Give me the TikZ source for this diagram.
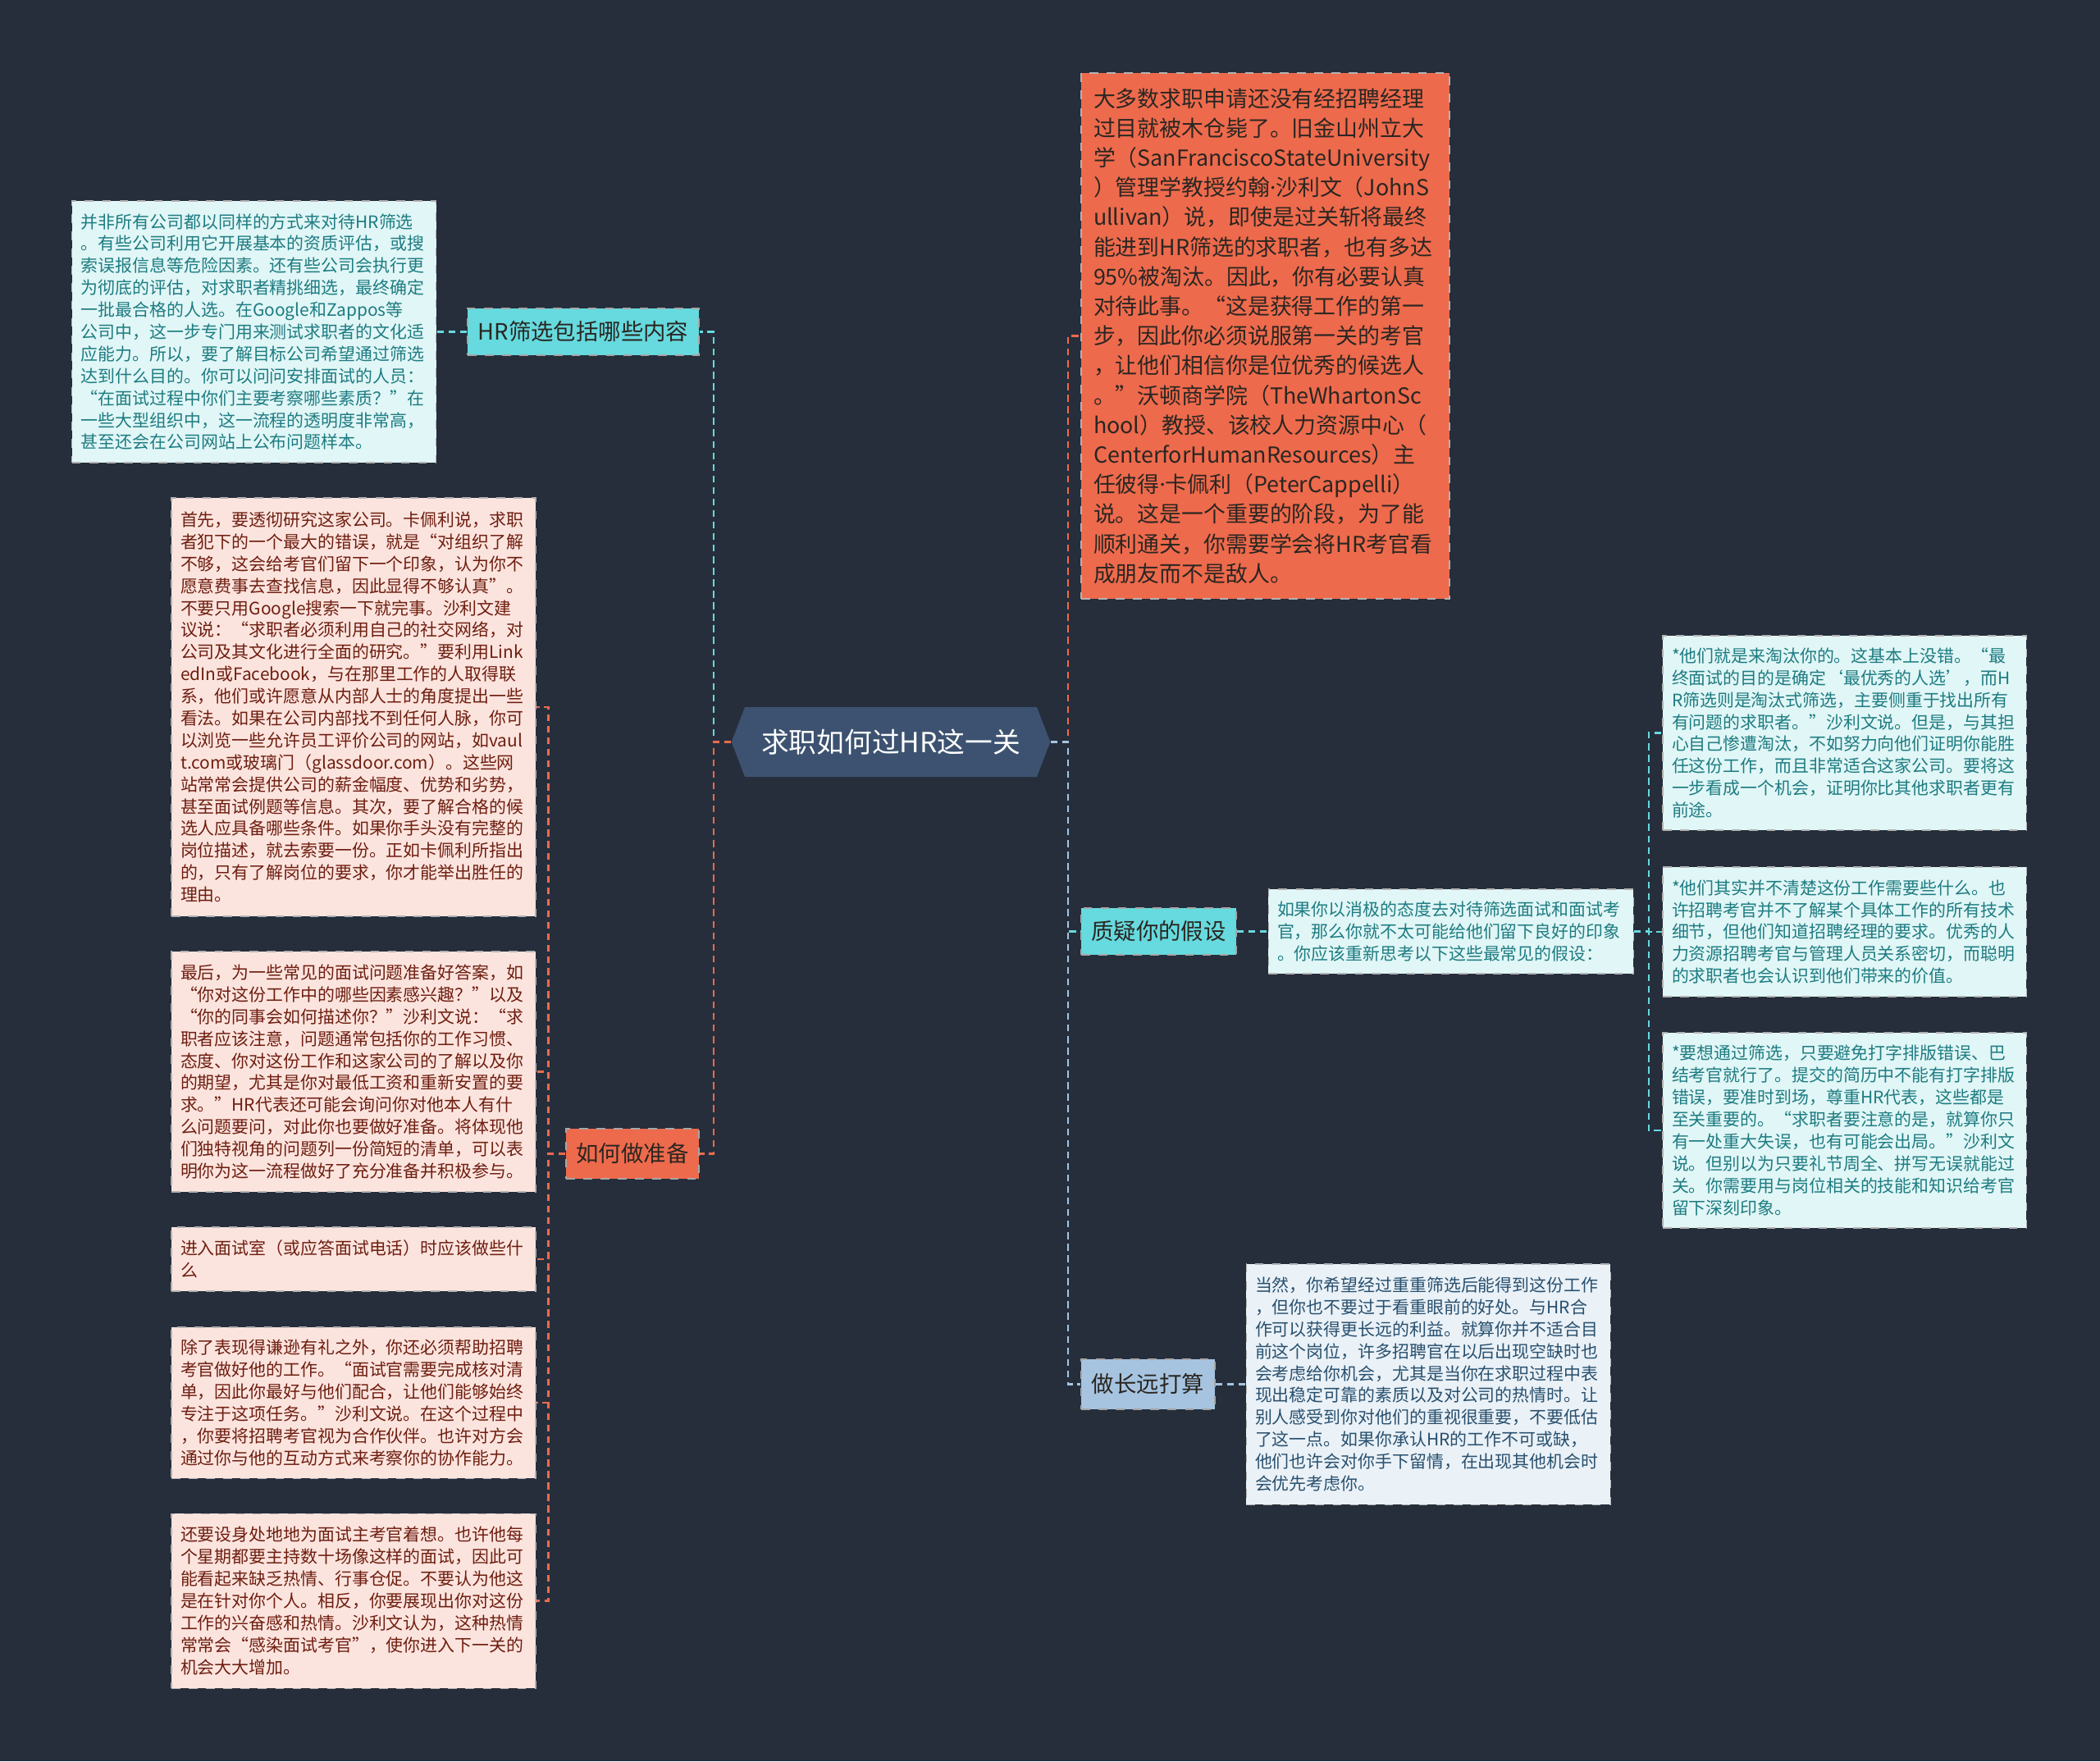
\documentclass[tikz,border=0pt]{standalone}
\usepackage{fontspec}
\setmainfont{Noto Sans CJK SC}
\newfontfamily\narrowdotfont{Noto Sans}
\usepackage{xcolor}
\definecolor{mmbg}{HTML}{262E3C}
\definecolor{mmslate}{HTML}{3C5270}
\definecolor{mmorange}{HTML}{EE6A4C}
\definecolor{mmcyan}{HTML}{66DADE}
\definecolor{mmsteel}{HTML}{A6C4E0}
\definecolor{mmleafcyan}{HTML}{E1F6F6}
\definecolor{mmleafpink}{HTML}{FCE4DE}
\definecolor{mmleafblue}{HTML}{EAF1F7}
\definecolor{mmteal}{HTML}{1D7C82}
\definecolor{mmbrown}{HTML}{6E1E10}
\definecolor{mmnavy}{HTML}{28506E}
\definecolor{mmdark}{HTML}{2A2622}
\usetikzlibrary{shapes.symbols, positioning}
\newcommand{\leaffont}{\fontsize{5.95}{7.65}\selectfont}
\newcommand{\bigleaffont}{\fontsize{7.65}{10.3}\selectfont}
\newcommand{\branchfont}{\fontsize{7.8}{9}\selectfont}
\newcommand{\hubfont}{\fontsize{9.6}{11}\selectfont}
\newcommand{\ndot}{{\narrowdotfont ·}}

\begin{document}
\begin{tikzpicture}[
  hub/.style={signal, signal to=west and east, signal pointer angle=138,
    fill=mmslate, text=white, font=\hubfont,
    minimum width=3.56cm, minimum height=0.85cm, inner xsep=0.2cm},
  branch/.style={rectangle, draw=black!35, dashed, line width=0.3pt,
    text=mmdark, font=\branchfont, minimum height=0.57cm},
  leaf/.style={rectangle, draw=black!30, dashed, line width=0.3pt,
    font=\leaffont, align=left, inner xsep=0.11cm, text width=4.22cm},
  leafcyan/.style={leaf, fill=mmleafcyan, text=mmteal},
  leafpink/.style={leaf, fill=mmleafpink, text=mmbrown},
  leafblue/.style={leaf, fill=mmleafblue, text=mmnavy},
  link/.style={dash pattern=on 2.4pt off 1.6pt, line width=0.6pt}
]
  \fill[mmbg] (0,0) rectangle (25.6,-21.47);

  \node[hub] (hub) at (10.86,-9.045) {求职如何过HR这一关};

  \node[branch, fill=mmcyan, minimum width=2.82cm] (screen) at (7.11,-4.045) {HR筛选包括哪些内容};
  \node[branch, fill=mmorange, minimum width=1.62cm, minimum height=0.61cm] (prep) at (7.71,-14.065) {如何做准备};
  \node[branch, fill=mmcyan, minimum width=1.89cm] (doubt) at (14.125,-11.355) {质疑你的假设};
  \node[branch, fill=mmsteel, minimum width=1.63cm, minimum height=0.61cm] (longrun) at (13.995,-16.875) {做长远打算};

  \node[leaf, fill=mmorange, text=mmdark, font=\bigleaffont, inner xsep=0.15cm,
    text width=4.19cm, minimum height=6.41cm] (intro) at (15.425,-4.095)
    {大多数求职申请还没有经招聘经理\\过目就被木仓毙了。旧金山州立大\\学（SanFranciscoStateUniversity\\）管理学教授约翰\ndot 沙利文（JohnS\\ullivan）说，即使是过关斩将最终\\能进到HR筛选的求职者，也有多达\\95\%被淘汰。因此，你有必要认真\\对待此事。“这是获得工作的第一\\步，因此你必须说服第一关的考官\\，让他们相信你是位优秀的候选人\\。”沃顿商学院（TheWhartonSc\\hool）教授、该校人力资源中心（\\CenterforHumanResources）主\\任彼得\ndot 卡佩利（PeterCappelli）\\说。这是一个重要的阶段，为了能\\顺利通关，你需要学会将HR考官看\\成朋友而不是敌人。};

  \node[leafcyan, minimum height=3.19cm, left=0.37cm of screen] (screennote)
    {并非所有公司都以同样的方式来对待HR筛选\\。有些公司利用它开展基本的资质评估，或搜\\索误报信息等危险因素。还有些公司会执行更\\为彻底的评估，对求职者精挑细选，最终确定\\一批最合格的人选。在Google和Zappos等\\公司中，这一步专门用来测试求职者的文化适\\应能力。所以，要了解目标公司希望通过筛选\\达到什么目的。你可以问问安排面试的人员：\\“在面试过程中你们主要考察哪些素质？”在\\一些大型组织中，这一流程的透明度非常高，\\甚至还会在公司网站上公布问题样本。};

  \node[leafpink, minimum height=5.10cm] (prepa) at (4.31,-8.62)
    {首先，要透彻研究这家公司。卡佩利说，求职\\者犯下的一个最大的错误，就是“对组织了解\\不够，这会给考官们留下一个印象，认为你不\\愿意费事去查找信息，因此显得不够认真”。\\不要只用Google搜索一下就完事。沙利文建\\议说：“求职者必须利用自己的社交网络，对\\公司及其文化进行全面的研究。”要利用Link\\edIn或Facebook，与在那里工作的人取得联\\系，他们或许愿意从内部人士的角度提出一些\\看法。如果在公司内部找不到任何人脉，你可\\以浏览一些允许员工评价公司的网站，如vaul\\t.com或玻璃门（glassdoor.com）。这些网\\站常常会提供公司的薪金幅度、优势和劣势，\\甚至面试例题等信息。其次，要了解合格的候\\选人应具备哪些条件。如果你手头没有完整的\\岗位描述，就去索要一份。正如卡佩利所指出\\的，只有了解岗位的要求，你才能举出胜任的\\理由。};
  \node[leafpink, minimum height=2.93cm] (prepb) at (4.31,-13.065)
    {最后，为一些常见的面试问题准备好答案，如\\“你对这份工作中的哪些因素感兴趣？”以及\\“你的同事会如何描述你？”沙利文说：“求\\职者应该注意，问题通常包括你的工作习惯、\\态度、你对这份工作和这家公司的了解以及你\\的期望，尤其是你对最低工资和重新安置的要\\求。”HR代表还可能会询问你对他本人有什\\么问题要问，对此你也要做好准备。将体现他\\们独特视角的问题列一份简短的清单，可以表\\明你为这一流程做好了充分准备并积极参与。};
  \node[leafpink, minimum height=0.78cm] (prepc) at (4.31,-15.35)
    {进入面试室（或应答面试电话）时应该做些什\\么};
  \node[leafpink, minimum height=1.84cm] (prepd) at (4.31,-17.10)
    {除了表现得谦逊有礼之外，你还必须帮助招聘\\考官做好他的工作。“面试官需要完成核对清\\单，因此你最好与他们配合，让他们能够始终\\专注于这项任务。”沙利文说。在这个过程中\\，你要将招聘考官视为合作伙伴。也许对方会\\通过你与他的互动方式来考察你的协作能力。};
  \node[leafpink, minimum height=2.13cm] (prepe) at (4.31,-19.515)
    {还要设身处地地为面试主考官着想。也许他每\\个星期都要主持数十场像这样的面试，因此可\\能看起来缺乏热情、行事仓促。不要认为他这\\是在针对你个人。相反，你要展现出你对这份\\工作的兴奋感和热情。沙利文认为，这种热情\\常常会“感染面试考官”，使你进入下一关的\\机会大大增加。};

  \node[leafcyan, text width=4.23cm, minimum height=1.03cm, right=0.38cm of doubt] (doubtnote)
    {如果你以消极的态度去对待筛选面试和面试考\\官，那么你就不太可能给他们留下良好的印象\\。你应该重新思考以下这些最常见的假设：};
  \node[leafcyan, text width=4.21cm, minimum height=2.37cm] (myth1) at (22.485,-8.935)
    {*他们就是来淘汰你的。这基本上没错。“最\\终面试的目的是确定‘最优秀的人选’，而H\\R筛选则是淘汰式筛选，主要侧重于找出所有\\有问题的求职者。”沙利文说。但是，与其担\\心自己惨遭淘汰，不如努力向他们证明你能胜\\任这份工作，而且非常适合这家公司。要将这\\一步看成一个机会，证明你比其他求职者更有\\前途。};
  \node[leafcyan, text width=4.21cm, minimum height=1.58cm] (myth2) at (22.485,-11.36)
    {*他们其实并不清楚这份工作需要些什么。也\\许招聘考官并不了解某个具体工作的所有技术\\细节，但他们知道招聘经理的要求。优秀的人\\力资源招聘考官与管理人员关系密切，而聪明\\的求职者也会认识到他们带来的价值。};
  \node[leafcyan, text width=4.21cm, minimum height=2.38cm] (myth3) at (22.485,-13.78)
    {*要想通过筛选，只要避免打字排版错误、巴\\结考官就行了。提交的简历中不能有打字排版\\错误，要准时到场，尊重HR代表，这些都是\\至关重要的。“求职者要注意的是，就算你只\\有一处重大失误，也有可能会出局。”沙利文\\说。但别以为只要礼节周全、拼写无误就能过\\关。你需要用与岗位相关的技能和知识给考官\\留下深刻印象。};

  \node[leafblue, minimum height=2.93cm, right=0.37cm of longrun] (longnote)
    {当然，你希望经过重重筛选后能得到这份工作\\，但你也不要过于看重眼前的好处。与HR合\\作可以获得更长远的利益。就算你并不适合目\\前这个岗位，许多招聘官在以后出现空缺时也\\会考虑给你机会，尤其是当你在求职过程中表\\现出稳定可靠的素质以及对公司的热情时。让\\别人感受到你对他们的重视很重要，不要低估\\了这一点。如果你承认HR的工作不可或缺，\\他们也许会对你手下留情，在出现其他机会时\\会优先考虑你。};

  \draw[link, mmcyan] (hub.west) -- ++(-0.21,0) |- (screen.east);
  \draw[link, mmorange] (hub.west) -- ++(-0.21,0) |- (prep.east);
  \draw[link, mmorange] (hub.east) -- ++(0.21,0) |- (intro.west);
  \draw[link, mmcyan] (hub.east) -- ++(0.21,0) |- (doubt.west);
  \draw[link, mmsteel] (hub.east) -- ++(0.21,0) |- (longrun.west);

  \draw[link, mmcyan] (screen.west) -- (screennote.east);
  \foreach \leafname in {prepa, prepb, prepc, prepd, prepe}
    \draw[link, mmorange] (prep.west) -- ++(-0.21,0) |- (\leafname.east);

  \draw[link, mmcyan] (doubt.east) -- (doubtnote.west);
  \foreach \leafname in {myth1, myth2, myth3}
    \draw[link, mmcyan] (doubtnote.east) -- ++(0.18,0) |- (\leafname.west);

  \draw[link, mmsteel] (longrun.east) -- (longnote.west);
\end{tikzpicture}
\end{document}
